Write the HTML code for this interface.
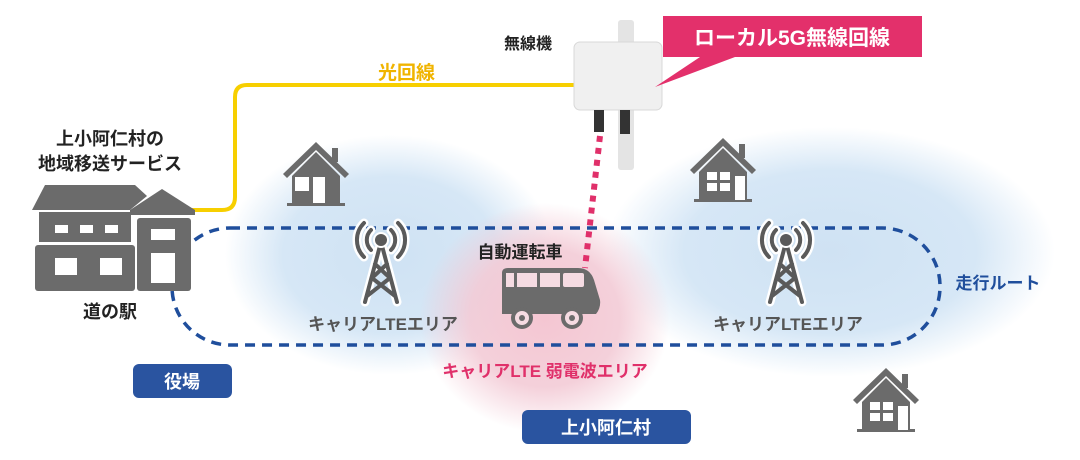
<!DOCTYPE html>
<html><head><meta charset="utf-8"><style>
html,body{margin:0;padding:0;background:#fff}
svg{display:block}
text{font-family:"Liberation Sans","Noto Sans CJK JP",sans-serif;font-weight:bold}
</style></head><body>
<svg width="1080" height="460" viewBox="0 0 1080 460" xmlns="http://www.w3.org/2000/svg">
<defs>
<radialGradient id="bl"><stop offset="0" stop-color="#cfe2f3"/><stop offset="0.65" stop-color="#d6e7f6"/><stop offset="1" stop-color="#d6e7f6" stop-opacity="0"/></radialGradient>
<radialGradient id="pk"><stop offset="0" stop-color="#f4c6d2"/><stop offset="0.6" stop-color="#f3cbd6" stop-opacity="0.9"/><stop offset="1" stop-color="#f3cbd6" stop-opacity="0"/></radialGradient>
<g id="tower">
 <g fill="none" stroke="#fff" stroke-width="9" stroke-linecap="round">
  <path d="M-10,-14 A14,14 0 0 0 -10,6 M10,-14 A14,14 0 0 1 10,6 M-17,-21 A24,24 0 0 0 -17,13 M17,-21 A24,24 0 0 1 17,13"/>
  <path d="M0,-2 L-16,58 M0,-2 L16,58"/>
 </g>
 <g fill="none" stroke="#5a5a5a" stroke-width="4" stroke-linecap="round">
  <path d="M-10,-14 A14,14 0 0 0 -10,6 M10,-14 A14,14 0 0 1 10,6 M-17,-21 A24,24 0 0 0 -17,13 M17,-21 A24,24 0 0 1 17,13"/>
  <path d="M0,-2 L-16,58 M0,-2 L16,58 M-6,20 L9,34 M6,20 L-9,34 M-9,34 L14,52 M9,34 L-14,52"/>
 </g>
 <circle r="8" cy="-4" fill="#fff"/><circle r="6" cy="-4" fill="#5a5a5a"/>
</g>
<g id="roof" fill="#6b6b6b">
 <path d="M0,-30 L-33,2 L-29,6 L0,-22 L29,6 L33,2 Z"/>
 <rect x="16" y="-24" width="6" height="14"/>
 <path d="M0,-20 L-24,4 L-24,32 L24,32 L24,4 Z"/>
 <rect x="-29" y="31" width="58" height="3"/>
</g>
</defs>
<ellipse cx="390" cy="255" rx="165" ry="120" fill="url(#bl)"/>
<ellipse cx="830" cy="252" rx="225" ry="125" fill="url(#bl)"/>
<ellipse cx="545" cy="318" rx="125" ry="115" fill="url(#pk)"/>

<!-- route -->
<rect x="172" y="228" width="768" height="117" rx="58" fill="none" stroke="#1f4e9c" stroke-width="3.5" stroke-dasharray="10,7"/>

<!-- yellow line -->
<path d="M190,210 H222 Q235,210 235,197 V97 Q235,85 247,85 H580" fill="none" stroke="#f7cf00" stroke-width="4"/>

<!-- pink dotted -->
<path d="M600,136 L585,268" stroke="#e0306a" stroke-width="6" stroke-dasharray="6,6"/>

<!-- device -->
<rect x="618" y="20" width="16" height="150" fill="#e4e4e4" rx="3"/>
<rect x="574" y="42" width="88" height="68" rx="6" fill="#f0f0f0" stroke="#d8d8d8"/>
<rect x="594" y="110" width="10" height="22" fill="#333"/>
<rect x="620" y="110" width="10" height="24" fill="#333"/>

<!-- callout -->
<path d="M663,16 H922 V57 H735 L655,87 L700,57 H663 Z" fill="#e3306b"/>
<text x="792" y="45" fill="#fff" font-size="21" text-anchor="middle">ローカル5G無線回線</text>
<text x="504" y="49" fill="#222" font-size="16">無線機</text>
<text x="378" y="79" fill="#f0b400" font-size="19">光回線</text>

<!-- station -->
<g fill="#6b6b6b">
 <path d="M45,185 H135 L147,196 L130,210 H32 Z"/>
 <rect x="39" y="212" width="92" height="30"/>
 <rect x="35" y="245" width="100" height="46" rx="3"/>
 <path d="M162,189 L195,210 V215 H130 V210 Z"/>
 <rect x="137" y="218" width="54" height="73" rx="3"/>
</g>
<g fill="#fff">
 <rect x="55" y="225" width="13" height="8"/><rect x="80" y="225" width="13" height="8"/><rect x="105" y="225" width="13" height="8"/>
 <rect x="151" y="229" width="24" height="11"/>
 <rect x="55" y="258" width="22" height="17"/><rect x="100" y="258" width="22" height="17"/>
 <rect x="151" y="253" width="24" height="30"/>
</g>
<text x="110" y="145" fill="#222" font-size="18" text-anchor="middle">上小阿仁村の</text>
<text x="110" y="170" fill="#222" font-size="18" text-anchor="middle">地域移送サービス</text>
<text x="110" y="318" fill="#222" font-size="18" text-anchor="middle">道の駅</text>

<!-- houses -->
<use href="#roof" x="316" y="172"/>
<g fill="#fff"><rect x="295" y="177" width="14" height="14"/><rect x="313" y="177" width="12" height="26"/></g>
<use href="#roof" x="723" y="168"/>
<g fill="#fff"><rect x="707" y="172" width="10" height="8"/><rect x="720" y="172" width="10" height="8"/><rect x="707" y="183" width="10" height="8"/><rect x="720" y="183" width="10" height="8"/><rect x="735" y="176" width="10" height="24"/></g>
<use href="#roof" x="886" y="398"/>
<g fill="#fff"><rect x="870" y="402" width="10" height="8"/><rect x="883" y="402" width="10" height="8"/><rect x="870" y="413" width="10" height="8"/><rect x="883" y="413" width="10" height="8"/><rect x="898" y="406" width="10" height="24"/></g>

<use href="#tower" x="381" y="244"/>
<use href="#tower" x="786" y="244"/>

<text x="383" y="330" fill="#555" font-size="17" text-anchor="middle">キャリアLTEエリア</text>
<text x="788" y="330" fill="#555" font-size="17" text-anchor="middle">キャリアLTEエリア</text>
<text x="545" y="377" fill="#e0306a" font-size="17" text-anchor="middle">キャリアLTE 弱電波エリア</text>
<text x="998" y="289" fill="#1f4e9c" font-size="17" text-anchor="middle">走行ルート</text>
<text x="520" y="258" fill="#222" font-size="17" text-anchor="middle">自動運転車</text>

<!-- bus -->
<g fill="#6b6b6b">
 <path d="M502,273 Q502,268 508,268 H578 Q590,268 594,280 L600,300 Q601,308 596,314 H502 Z"/>
 <circle cx="522" cy="318" r="11"/><circle cx="572" cy="318" r="11"/>
</g>
<g fill="#f5dbe2">
 <rect x="506" y="273" width="8" height="14"/><rect x="517" y="273" width="20" height="14"/><rect x="540" y="273" width="20" height="14"/><rect x="563" y="273" width="21" height="14" rx="2"/>
 <circle cx="522" cy="318" r="7"/><circle cx="572" cy="318" r="7"/>
</g>
<g fill="#6b6b6b"><circle cx="522" cy="318" r="3"/><circle cx="572" cy="318" r="3"/></g>

<rect x="133" y="364" width="99" height="34" rx="6" fill="#2a54a0"/>
<text x="182" y="388" fill="#fff" font-size="18" text-anchor="middle">役場</text>
<rect x="522" y="410" width="169" height="34" rx="6" fill="#2a54a0"/>
<text x="606" y="434" fill="#fff" font-size="18" text-anchor="middle">上小阿仁村</text>
</svg>
</body></html>
